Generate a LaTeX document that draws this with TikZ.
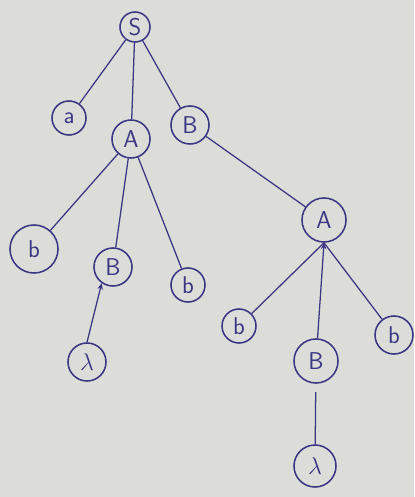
\documentclass[tikz,border=0pt]{standalone}
\usepackage{tikz}
\usepackage{xcolor}
\usetikzlibrary{arrows.meta,positioning}
\definecolor{paper}{HTML}{DCDCD9}
\definecolor{ink}{HTML}{3B3783}
\tikzset{
  vnode/.style={draw=ink,circle,line width=1.1pt,minimum size=0.95cm,
                inner sep=0pt,text=ink,font=\LARGE\sffamily},
  tnode/.style={vnode,minimum size=0.85cm},
  edge/.style={draw=ink,line width=0.9pt},
  uparr/.style={edge,-{Stealth[length=1.6mm,width=1.4mm]}}
}
\begin{document}
\begin{tikzpicture}[x=0.025cm,y=-0.025cm]
    \fill[paper] (0,0) rectangle (414,497);
    \useasboundingbox (0,0) rectangle (414,497);
    % top levels
    \node[vnode,minimum size=0.75cm] (S) at (135,27) {S};
    \node[tnode] (a) at (69,118) {a};
    \node[vnode] (A1) at (131,139) {A};
    \node[vnode] (B1) at (190,125) {B};
    % children of left A
    \node[vnode,minimum size=1.2cm] (b1) at (34,249) {b};
    \node[vnode] (B2) at (113,267) {B};
    \node[tnode] (b2) at (188,285) {b};
    \node[vnode] (l1) at (87,362) {$\lambda$};
    % right branch
    \node[vnode,minimum size=1.1cm] (A2) at (324,220) {A};
    \node[tnode] (b3) at (239,326) {b};
    \node[vnode,minimum size=1.1cm] (B3) at (316,361) {B};
    \node[vnode] (b4) at (394,335) {b};
    \node[vnode,minimum size=1.05cm] (l2) at (315,466) {$\lambda$};
    \draw[edge] (S) -- (a);
    \draw[edge] (S) -- (A1);
    \draw[edge] (S) -- (B1);
    \draw[edge] (A1) -- (b1);
    \draw[edge] (A1) -- (B2);
    \draw[edge] (A1) -- (b2);
    \draw[uparr] (l1.north) -- (B2.-125);
    \draw[edge] (B1) -- (A2);
    \draw[edge] (A2.south) -- (b3);
    \draw[uparr] (B3) -- (A2.south);
    \draw[edge] (A2.south) -- (b4);
    \draw[edge,shorten <=6pt] (B3) -- (l2);
\end{tikzpicture}
\end{document}
